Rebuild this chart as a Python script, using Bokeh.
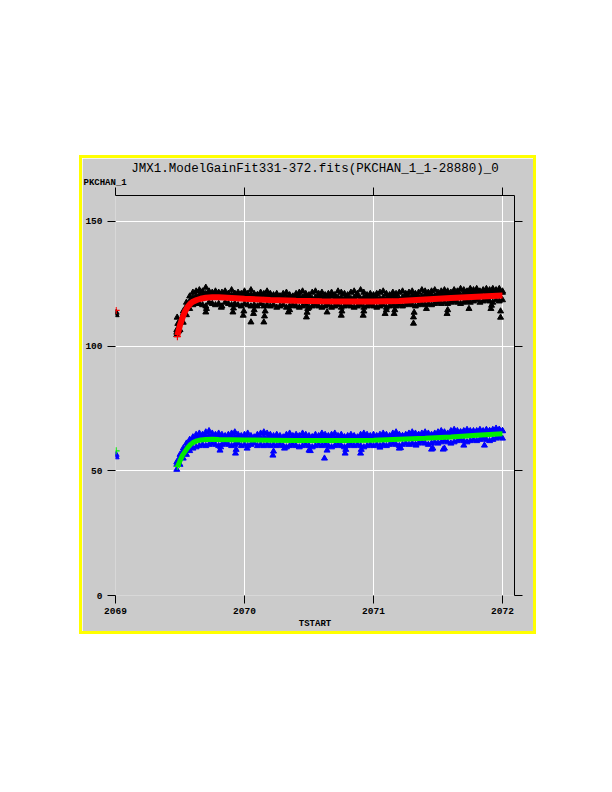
from bokeh.plotting import figure
from bokeh.models import Range1d, LinearAxis, FixedTicker, Title
from bokeh.embed import file_html
from bokeh.resources import INLINE

# ---------------- data ----------------
title_text = "JMX1.ModelGainFit331-372.fits(PKCHAN_1_1-28880)_0"
y_label = "PKCHAN_1"
x_label = "TSTART"
x_ticks = [2069, 2070, 2071, 2072]
y_ticks = [0, 50, 100, 150]

scan_t = [2069.475, 2069.500, 2069.525, 2069.550, 2069.575, 2069.600, 2069.625, 2069.650, 2069.675, 2069.700,
          2069.725, 2069.750, 2069.775, 2069.800, 2069.825, 2069.850, 2069.875, 2069.900, 2069.925, 2069.950,
          2069.975, 2070.000, 2070.025, 2070.050, 2070.075, 2070.100, 2070.125, 2070.150, 2070.175, 2070.200,
          2070.225, 2070.250, 2070.275, 2070.300, 2070.325, 2070.350, 2070.375, 2070.400, 2070.425, 2070.450,
          2070.475, 2070.500, 2070.525, 2070.550, 2070.575, 2070.600, 2070.625, 2070.650, 2070.675, 2070.700,
          2070.725, 2070.750, 2070.775, 2070.800, 2070.825, 2070.850, 2070.875, 2070.900, 2070.925, 2070.950,
          2070.975, 2071.000, 2071.025, 2071.050, 2071.075, 2071.100, 2071.125, 2071.150, 2071.175, 2071.200,
          2071.225, 2071.250, 2071.275, 2071.300, 2071.325, 2071.350, 2071.375, 2071.400, 2071.425, 2071.450,
          2071.475, 2071.500, 2071.525, 2071.550, 2071.575, 2071.600, 2071.625, 2071.650, 2071.675, 2071.700,
          2071.725, 2071.750, 2071.775, 2071.800, 2071.825, 2071.850, 2071.875, 2071.900, 2071.925, 2071.950,
          2071.975, 2072.000]

black_hi = [106.5, 110, 114, 117.5, 120, 121.5, 122, 122.5, 122, 123.5,
            122, 121.5, 122, 121, 121.5, 122, 121, 122.5, 121, 121.5,
            120.5, 122, 121, 122.5, 121, 120.5, 121.5, 121, 122, 121,
            120.5, 121, 120, 121, 121.5, 120.5, 120, 121, 121.5, 122,
            121, 120.5, 121.5, 122, 121, 121.5, 120.5, 121, 121.5, 120.5,
            122, 121.5, 121, 120.5, 121.5, 122, 121, 122.5, 121.5, 120.5,
            121, 120.5, 121, 121.5, 122, 121, 120.5, 121.5, 121, 121.5,
            122, 121, 121.5, 122, 121, 121.5, 122.5, 122, 121.5, 122,
            122.5, 121.5, 122, 122.5, 122, 121.5, 122.5, 122, 123, 122.5,
            122, 123, 122.5, 123, 122, 122.5, 123, 122.5, 123, 122.5,
            123, 122]
black_mid = [105.5, 109.5, 113, 116, 118, 119.5, 120, 120.5, 120.5, 121,
             121, 120.5, 121, 121.5, 120.5, 121, 121, 120.5, 121, 120.5, 121,
             120.5, 120, 120.5, 120, 120.5, 120, 120.5, 120, 119.5, 120,
             119.5, 120, 119.5, 119.5, 120, 119.5, 119.5, 120, 119.5, 120,
             119.5, 119, 119.5, 120, 119.5, 119, 119.5, 120, 119, 119.5,
             119.5, 119, 119.5, 119, 119.5, 120, 119, 119.5, 119, 119.5,
             119, 119.5, 119, 119.5, 119, 119.5, 120, 119.5, 119, 119.5,
             120, 119.5, 120, 120, 119.5, 120, 120.5, 120, 120.5, 120,
             120.5, 121, 120.5, 121, 120.5, 121, 121, 120.5, 121, 121.5,
             121, 121.5, 121, 121.5, 122, 121.5, 121, 121.5, 122, 121.5, 121.5]
black_lo = [104.5, 106.5, 109.5, 112.5, 115, 116.5, 117, 117, 116.5, 116,
            117.5, 117, 116.5, 117, 116, 117.5, 117, 116.5, 117, 116.5,
            116, 117, 116.5, 116, 116.5, 116, 117, 116, 116.5, 116,
            116.5, 115.5, 116, 116.5, 115.5, 116, 116.5, 116, 115.5, 116,
            116.5, 115.5, 116, 116.5, 116, 115.5, 116, 116.5, 115.5, 116,
            116.5, 115.5, 116, 116.5, 116, 115.5, 116, 116.5, 115.5, 116,
            116.5, 116, 115.5, 116, 116.5, 115.5, 116, 116.5, 116, 116.5,
            116, 116.5, 117, 116.5, 116, 116.5, 117, 116.5, 117, 116.5,
            117, 117.5, 117, 117.5, 117, 117.5, 118, 117.5, 117, 117.5,
            118, 117.5, 118, 118.5, 117.5, 118, 118.5, 118, 117.5, 118.5,
            118, 118.5]
black_extra_t = [2069.005, 2069.005, 2069.478, 2069.483, 2069.490, 2069.700, 2069.705, 2069.820, 2069.910,
                 2069.915, 2069.990, 2069.995, 2070.050, 2070.070, 2070.075, 2070.150, 2070.155, 2070.160,
                 2070.340, 2070.350, 2070.480, 2070.485, 2070.490, 2070.640, 2070.750, 2070.755, 2070.920,
                 2070.925, 2071.090, 2071.100, 2071.160, 2071.165, 2071.310, 2071.310, 2071.315, 2071.410,
                 2071.570, 2071.575, 2071.740, 2071.910, 2071.915, 2071.985, 2071.985]
black_extra_v = [112.5, 113.5, 111.5, 109, 106, 113.6, 115, 115.5, 113.6,
                 115.2, 112.3, 114, 109.6, 113, 114.5, 109.6, 112, 114,
                 113.6, 114.5, 111.6, 113.5, 115, 113.6, 112.3, 114, 112.3,
                 114, 113, 114.5, 113, 114.5, 111.6, 109.1, 113.5, 115,
                 113, 114.5, 115, 115, 116.3, 111.5, 114]

blue_hi = [53.5, 56.5, 59, 61, 62.5, 63.5, 64.5, 65, 64.5, 65.5,
           66, 65, 64.5, 65, 64.5, 64, 64.5, 65, 65.5, 64.5,
           64, 64.5, 65, 64, 63.5, 64.5, 65, 65.5, 65, 64.5,
           64, 64.5, 64, 63.5, 64.5, 65, 64, 64.5, 64, 65,
           64.5, 64, 63.5, 64.5, 64, 65, 64.5, 64, 64.5, 65,
           64, 64.5, 63.5, 64, 64.5, 64, 63.5, 64.5, 65, 64.5,
           64, 64.5, 64, 64.5, 65, 64.5, 64, 65, 65.5, 64.5,
           64, 64.5, 65, 65.5, 65, 64.5, 65, 65.5, 65, 64.5,
           65, 65.5, 66, 65.5, 65, 66, 66.5, 66, 65.5, 66,
           66.5, 66, 65.5, 66, 66.5, 66, 66.5, 66, 66.5, 67,
           66.5, 66]
blue_mid = [52.5, 55.5, 58, 59.5, 61, 62, 63, 63.5, 63.5, 64,
            64, 64, 63.5, 64, 63.5, 63.5, 64, 63.5, 63.5, 63.5, 63.5,
            63.5, 63, 63.5, 63, 63.5, 63, 63.5, 63, 63.5, 63,
            63.5, 63, 63, 63.5, 63, 63.5, 63, 63.5, 63, 63.5,
            63, 63.5, 63, 63, 63.5, 63, 63.5, 63, 63, 63.5,
            63, 63.5, 63, 63, 63.5, 63, 63, 63.5, 63, 63.5,
            63, 63.5, 63, 63.5, 63.5, 63.5, 64, 63.5, 64, 64,
            64, 64.5, 64, 64, 64.5, 64, 64.5, 64.5, 64, 64.5,
            64.5, 65, 65, 64.5, 65, 65.5, 65, 65.5, 65.5, 65,
            65.5, 66, 65.5, 66, 65.5, 66, 66, 65.5, 66, 66.5, 66]
blue_lo = [50.5, 52.5, 55, 56.5, 58, 59, 59.5, 60, 60.5, 60,
           60.5, 61, 60.5, 60, 60.5, 61, 60.5, 60, 60.5, 61,
           60, 60.5, 60, 60.5, 61, 60, 60.5, 60, 60.5, 60,
           60.5, 60, 60.5, 60, 59.5, 60, 60.5, 60, 59.5, 60,
           60.5, 60, 59.5, 60, 60.5, 60, 60.5, 60, 59.5, 60,
           60.5, 60, 59.5, 60, 60.5, 60, 60.5, 60, 59.5, 60,
           60.5, 60, 60.5, 60, 60.5, 60, 60.5, 61, 60.5, 60,
           60.5, 61, 60.5, 61, 60.5, 61, 61.5, 61, 60.5, 61,
           61.5, 61, 61.5, 62, 61.5, 61, 61.5, 62, 62.5, 62,
           61.5, 62, 62.5, 62, 62.5, 63, 62.5, 62, 62.5, 63,
           63.5, 63]
blue_extra_t = [2069.005, 2069.005, 2069.810, 2069.815, 2069.930, 2069.935, 2070.020, 2070.220, 2070.225,
                2070.310, 2070.500, 2070.510, 2070.620, 2070.640, 2070.780, 2070.785, 2070.900, 2070.905,
                2071.050, 2071.200, 2071.210, 2071.330, 2071.450, 2071.460, 2071.540, 2071.550, 2071.700,
                2071.860]
blue_extra_v = [55.5, 56.5, 58.2, 59.5, 57, 58.5, 59, 56.2, 57.8,
                59, 58.2, 58, 55, 58.2, 57, 58.5, 57, 58.5,
                59.4, 59, 59.2, 60.2, 58.6, 59, 58.6, 59, 60.2,
                60.2]

fit_t = [2069.48, 2069.50, 2069.52, 2069.54, 2069.56, 2069.58, 2069.60, 2069.63, 2069.66, 2069.70,
         2069.75, 2069.80, 2069.90, 2070.00, 2070.20, 2070.40, 2070.60, 2070.80, 2071.00, 2071.20,
         2071.40, 2071.60, 2071.80, 2072.00]
red_fit = [104.3, 108.5, 111.5, 114.0, 115.8, 117.0, 117.8, 118.5, 119.0, 119.4,
           119.6, 119.6, 119.3, 119.0, 118.5, 118.2, 118.0, 117.9, 117.9, 118.1,
           118.7, 119.3, 119.8, 120.3]
green_fit = [51.5, 54.0, 56.3, 57.8, 59.3, 60.5, 61.3, 62.0, 62.4, 62.6,
             62.7, 62.6, 62.5, 62.4, 62.3, 62.2, 62.2, 62.2, 62.3, 62.7,
             63.1, 63.6, 64.3, 64.9]
red_plus_t = [2069.005, 2069.480]
red_plus_v = [114.3, 103.8]
green_plus_t = [2069.005, 2069.480]
green_plus_v = [58.0, 51.8]

# ---------------- figure ----------------
BG = "#cbcbcb"
p = figure(frame_width=399, frame_height=400,
           x_range=Range1d(2069, 2072.093), y_range=Range1d(0, 160.4),
           output_backend="svg", toolbar_location=None,
           min_border_left=32, min_border_right=19, min_border_top=37, min_border_bottom=35,
           background_fill_color=BG, border_fill_color=BG,
           x_axis_location=None, y_axis_location=None,
           margin=(155, 0, 0, 79))
p.styles = {"border": "3px solid #ffff00"}
p.outline_line_color = None

tick_font = "Liberation Mono"

bottom = LinearAxis(ticker=FixedTicker(ticks=x_ticks), axis_label=x_label)
left = LinearAxis(ticker=FixedTicker(ticks=y_ticks))
top = LinearAxis(ticker=FixedTicker(ticks=x_ticks))
right = LinearAxis(ticker=FixedTicker(ticks=y_ticks))
p.add_layout(bottom, "below")
p.add_layout(left, "left")
p.add_layout(top, "above")
p.add_layout(right, "right")
for ax, lab, line in [(bottom, True, False), (left, True, False), (top, False, True), (right, False, True)]:
    ax.major_tick_out = 8
    ax.major_tick_in = 0
    ax.minor_tick_line_color = None
    ax.major_tick_line_color = "black"
    ax.axis_line_color = "black" if line else None
    ax.major_label_text_font = tick_font
    if lab:
        ax.major_label_text_font_size = "9.5px"
        ax.major_label_text_color = "black"
        ax.major_label_text_font_style = "bold"
        ax.major_label_standoff = 4
    else:
        ax.major_label_text_font_size = "1px"
        ax.major_label_text_color = None
        ax.major_label_standoff = 0
left.major_label_standoff = 5
bottom.axis_label_text_font = tick_font
bottom.axis_label_text_font_size = "9px"
bottom.axis_label_text_font_style = "bold"
bottom.axis_label_text_color = "black"
bottom.axis_label_standoff = 2

p.xgrid.ticker = FixedTicker(ticks=x_ticks)
p.ygrid.ticker = FixedTicker(ticks=y_ticks)
p.grid.grid_line_color = "white"
p.grid.grid_line_width = 1

# titles
p.title.text = title_text
p.title.align = "center"
p.title.text_font = "Liberation Mono"
p.title.text_font_size = "12.5px"
p.title.text_font_style = "normal"
p.title.text_color = "black"
p.title.standoff = 0
pk = Title(text=y_label, align="left", offset=-32, text_font=tick_font,
           text_font_size="9px", text_font_style="bold", text_color="black", standoff=0)
p.add_layout(pk, "above")

# scatter points
for vals in (black_hi, black_mid, black_lo):
    p.scatter(scan_t, vals, marker="triangle", size=6, color="black")
p.scatter(black_extra_t, black_extra_v, marker="triangle", size=6, color="black")
for vals in (blue_hi, blue_mid, blue_lo):
    p.scatter(scan_t, vals, marker="triangle", size=6, color="#0000ff")
p.scatter(blue_extra_t, blue_extra_v, marker="triangle", size=6, color="#0000ff")

# fits
p.line(fit_t, red_fit, line_width=6, color="#ff0000")
p.line(fit_t, green_fit, line_width=5, color="#00ee00")
p.scatter(red_plus_t, red_plus_v, marker="cross", size=7, color="#ff0000", line_width=1.2)
p.scatter(green_plus_t, green_plus_v, marker="cross", size=7, color="#00ee00", line_width=1.2)

open("out.html", "w").write(file_html(p, INLINE))
